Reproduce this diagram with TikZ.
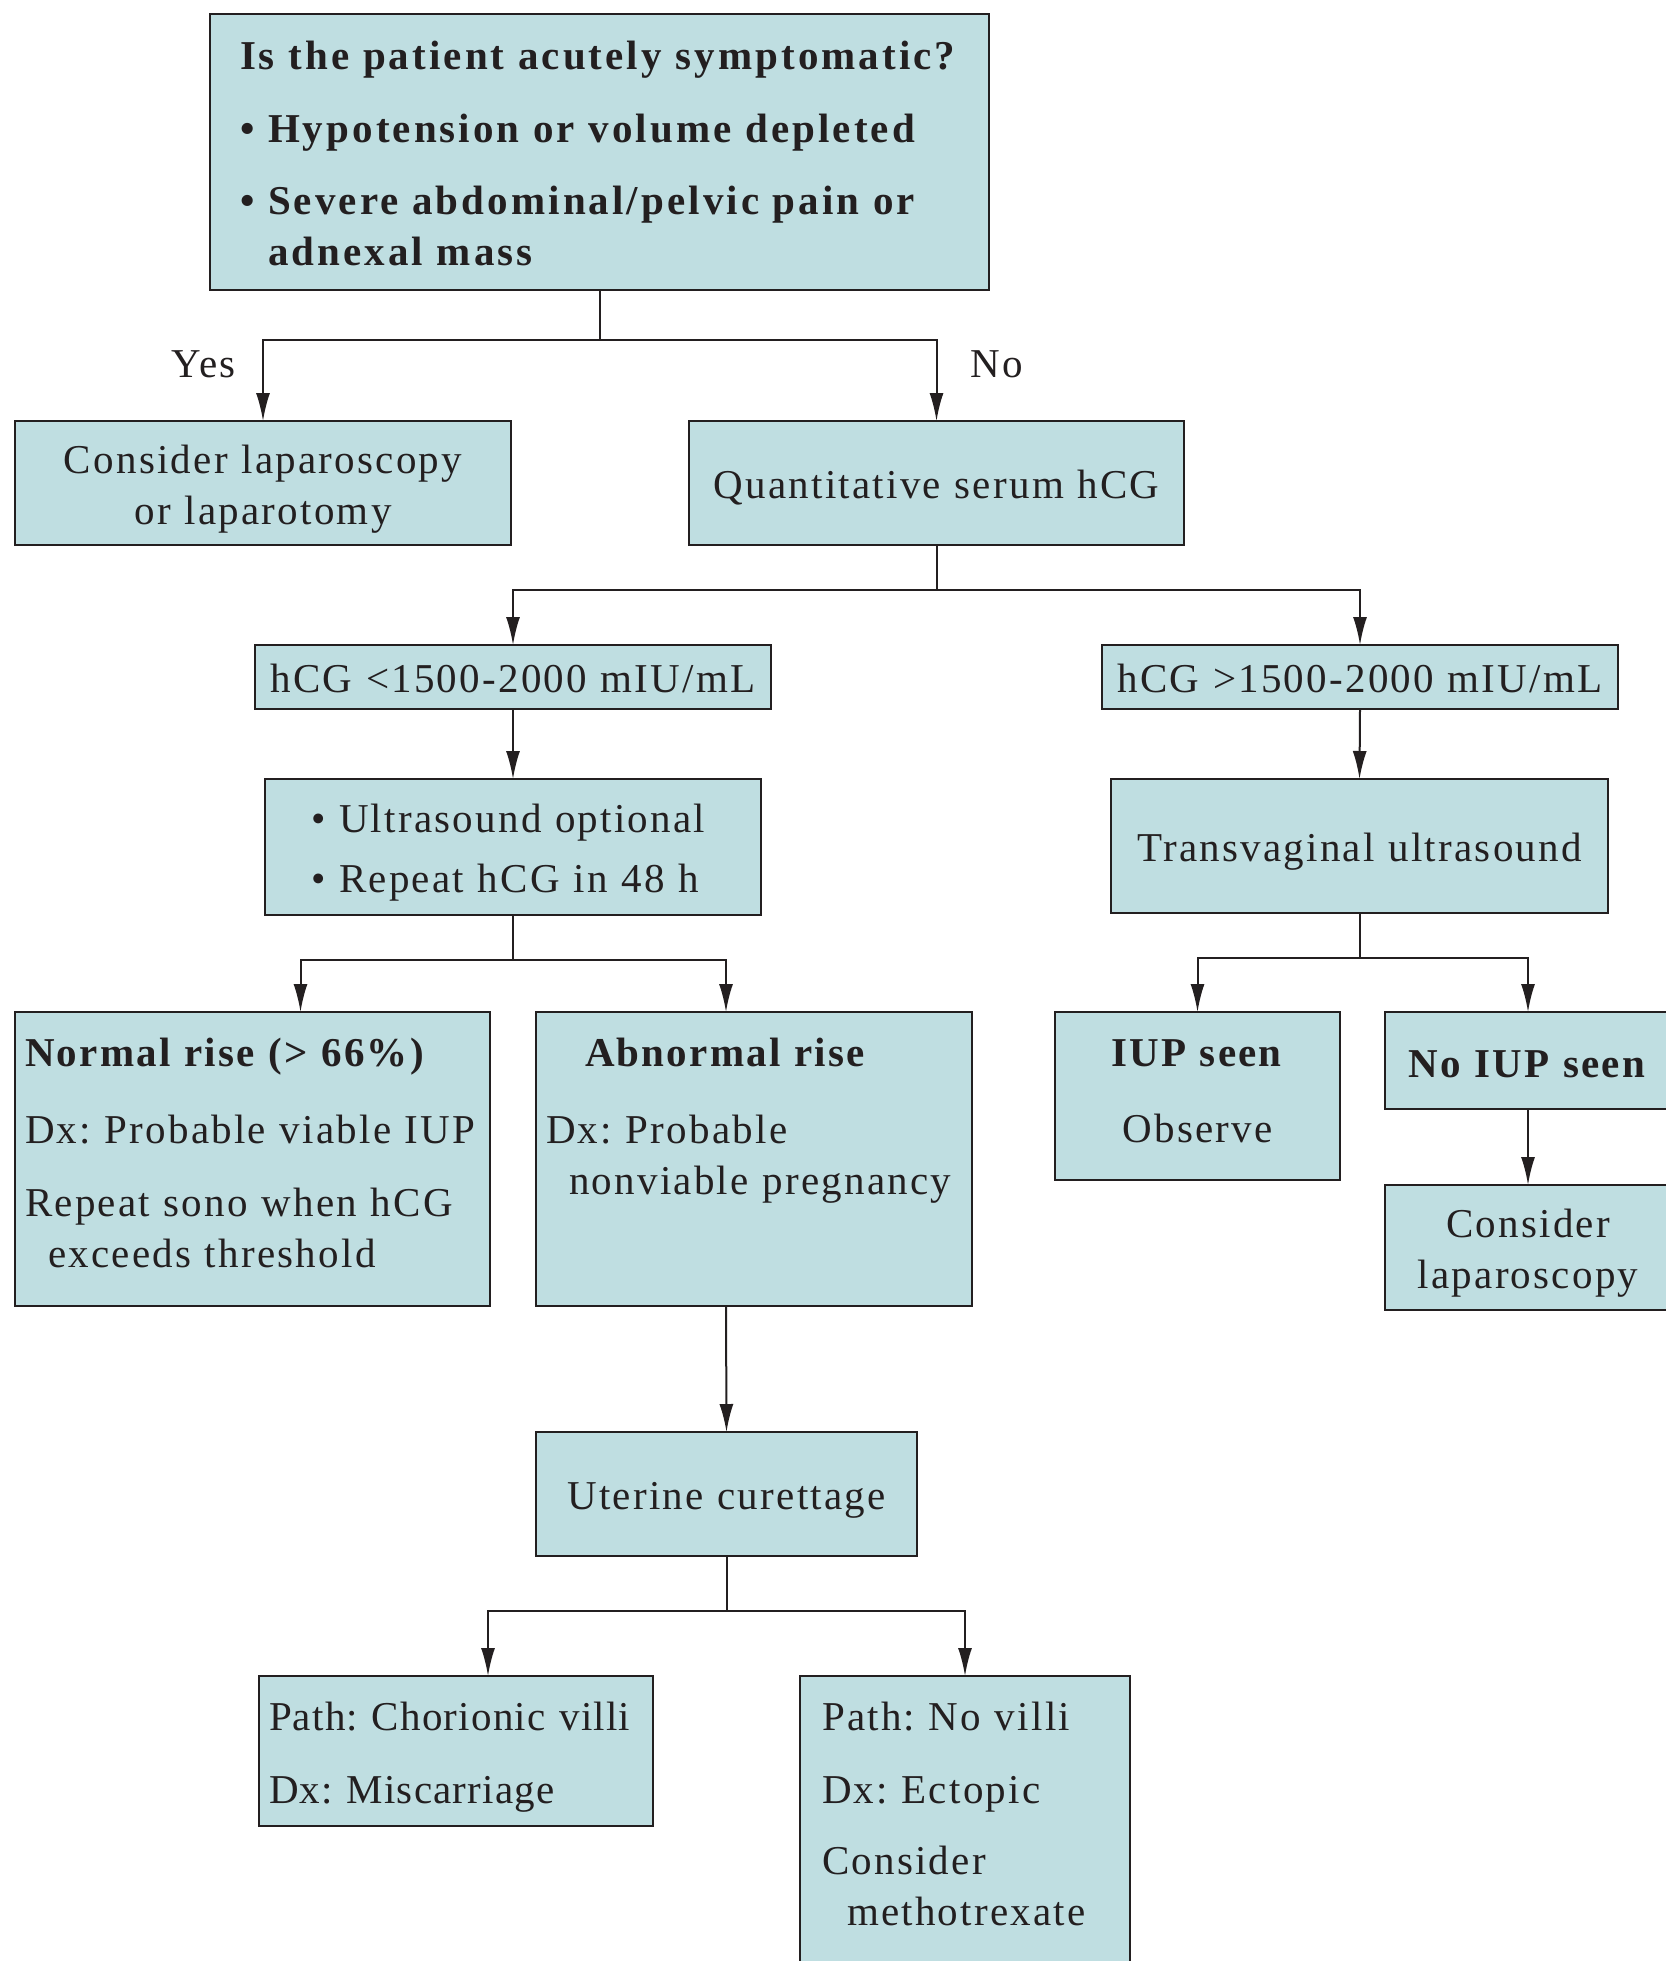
\documentclass[tikz,border=0pt]{standalone}
\usepackage{fontspec}
\setmainfont[LetterSpace=5.5]{Liberation Serif}
\usetikzlibrary{arrows.meta}
\definecolor{boxfill}{RGB}{191,222,225}
\definecolor{edge}{RGB}{35,31,32}
\frenchspacing

\begin{document}
\begin{tikzpicture}[x=1pt, y=-1pt,
    every node/.style = {font=\fontsize{41}{51}\selectfont, text=edge},
    box/.style = {draw=edge, fill=boxfill, line width=2.2pt, anchor=north west,
                  inner ysep=0pt, outer sep=0pt, align=left},
    mid/.style = {box, align=center},
    arr/.style = {draw=edge, line width=2pt, -{Latex[length=28pt,width=14pt]}},
    lbl/.style = {inner sep=0pt}]
  \useasboundingbox (0,0) rectangle (1665,1961);

  \node (q) [box, inner xsep=30pt, text width=719pt, text height=56pt, text depth=220pt] at (210,14)
    {\bfseries\addfontfeature{LetterSpace=7.5}Is the patient acutely symptomatic?\\[22pt]
     \textbullet\ Hypotension or volume depleted\\[21pt]
     \textbullet\ Severe abdominal/pelvic pain or\\
     \hphantom{\textbullet\ }adnexal mass};
  \node (lap) [mid, inner xsep=8pt, text width=480pt, text height=52pt, text depth=72pt] at (15,421)
    {Consider laparoscopy\\or laparotomy};
  \node (serum) [mid, inner xsep=8pt, text width=479pt, text height=77pt, text depth=47pt] at (689,421)
    {Quantitative serum hCG};
  \node (yes) [lbl, anchor=base east] at (236,377) {Yes};
  \node (no) [lbl, anchor=base west] at (970,377) {No};

  \node (lo) [mid, inner xsep=3pt, text width=510pt, text height=47pt, text depth=17pt] at (255,645)
    {hCG <1500-2000 mIU/mL};
  \node (hi) [mid, inner xsep=3pt, text width=510pt, text height=47pt, text depth=17pt] at (1102,645)
    {hCG >1500-2000 mIU/mL};
  \node (us) [box, inner xsep=46pt, text width=404pt, text height=53pt, text depth=83pt] at (265,779)
    {\textbullet\ Ultrasound optional\\[9pt]
     \textbullet\ Repeat hCG in 48 h};
  \node (tv) [mid, inner xsep=8pt, text width=481pt, text height=82pt, text depth=52pt] at (1111,779)
    {Transvaginal ultrasound};

  \node (nr) [box, inner xsep=10pt, text width=455pt, text height=54pt, text depth=240pt] at (15,1012)
    {\textbf{Normal rise (> 66\%)}\\[26pt]
     \mbox{Dx: Probable viable IUP}\\[22pt]
     Repeat sono when hCG\\
     \hspace*{23pt}exceeds threshold};
  \node (ar) [box, inner xsep=10pt, text width=416pt, text height=54pt, text depth=240pt] at (536,1012)
    {\hspace*{39pt}\textbf{Abnormal rise}\\[26pt]
     Dx: Probable\\
     \hspace*{23pt}nonviable pregnancy};
  \node (iup) [mid, inner xsep=5pt, text width=275pt, text height=54pt, text depth=114pt] at (1055,1012)
    {\textbf{IUP seen}\\[25pt] Observe};
  \node (noiup) [mid, inner xsep=5pt, text width=276pt, text height=65pt, text depth=32pt] at (1385,1012)
    {\textbf{No IUP seen}};
  \node (lap2) [mid, inner xsep=5pt, text width=276pt, text height=52pt, text depth=73pt] at (1385,1185)
    {Consider\\laparoscopy};

  \node (cur) [mid, inner xsep=8pt, text width=365pt, text height=77pt, text depth=47pt] at (536,1432)
    {Uterine curettage};
  \node (cv) [box, inner xsep=10pt, text width=374pt, text height=54pt, text depth=96pt] at (259,1676)
    {\addfontfeature{LetterSpace=3}\mbox{Path: Chorionic villi}\\[22pt]
     Dx: Miscarriage};
  \node (nv) [box, inner xsep=22pt, text width=286pt, text height=54pt, text depth=246pt] at (800,1676)
    {Path: No villi\\[22pt]
     Dx: Ectopic\\[20pt]
     Consider\\
     \hspace*{25pt}methotrexate};

  \draw[arr] (q.south) -- ++(0,50) -| (lap.north);
  \draw[arr] (q.south) -- ++(0,50) -| (serum.north);
  \draw[arr] (serum.south) -- ++(0,45) -| (lo.north);
  \draw[arr] (serum.south) -- ++(0,45) -| (hi.north);
  \draw[arr] (lo.south) -- (us.north);
  \draw[arr] (hi.south) -- (tv.north);
  \draw[arr] (us.south) -- ++(0,45) -| ([xshift=48pt]nr.north);
  \draw[arr] (us.south) -- ++(0,45) -| ([xshift=-28pt]ar.north);
  \draw[arr] (tv.south) -- ++(0,45) -| (iup.north);
  \draw[arr] (tv.south) -- ++(0,45) -| (noiup.north);
  \draw[arr] (noiup.south) -- (lap2.north);
  \draw[arr] ([xshift=-28pt]ar.south) -- (cur.north);
  \draw[arr] (cur.south) -- ++(0,55) -| ([xshift=32pt]cv.north);
  \draw[arr] (cur.south) -- ++(0,55) -| (nv.north);
\end{tikzpicture}
\end{document}
